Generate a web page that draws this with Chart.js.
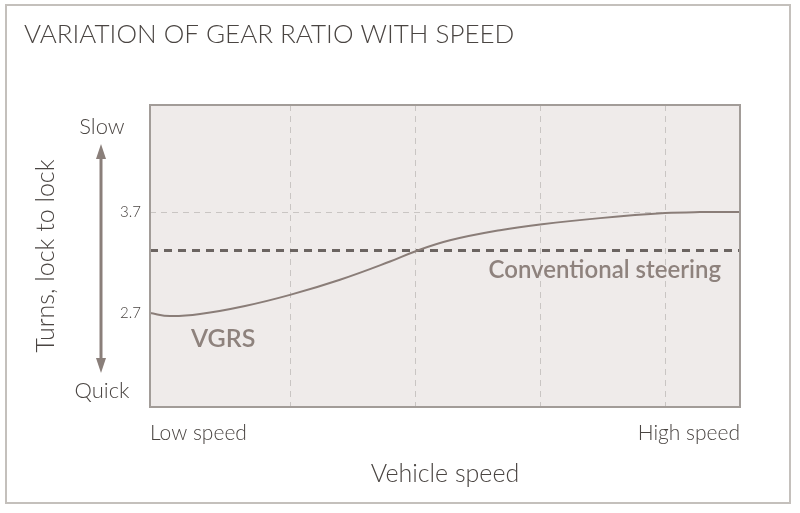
<!DOCTYPE html>
<html>
<head>
<meta charset="utf-8">
<script src="https://cdn.jsdelivr.net/npm/chart.js@4/dist/chart.umd.min.js"></script>
<style>
  html, body { margin: 0; padding: 0; background: #fff; }
  #wrap { width: 800px; height: 513px; position: relative; }
</style>
</head>
<body>
<div id="wrap"><canvas id="chart"></canvas></div>
<script>
// vehicle speed (arbitrary units, 0 = low speed, 590 = high speed)
var speed = [0, 20, 50, 95, 140, 190, 240, 265, 300, 350, 392, 450, 515, 550, 590];
// VGRS turns lock to lock
var vgrs = [2.70, 2.67, 2.69, 2.77, 2.88, 3.03, 3.21, 3.31, 3.42, 3.52, 3.58, 3.64, 3.69, 3.70, 3.70];
// conventional steering is constant
var conventional = 3.32;
var gridSpeeds = [0, 140, 265, 390, 515, 590];
var turnTicks = [2.7, 3.7];

var ink = '#4a4542';
var lightInk = '#8e827d';

var decor = {
    id: 'decor',
    beforeDraw: function (chart) {
        var c = chart.ctx, a = chart.chartArea;
        c.save();
        // outer frame
        c.strokeStyle = '#c4c0bc';
        c.lineWidth = 2;
        c.strokeRect(6, 5, 784, 498);
        // plot background
        c.fillStyle = '#efebea';
        c.fillRect(a.left, a.top, a.right - a.left, a.bottom - a.top);
        c.restore();
    },
    afterDatasetsDraw: function (chart) {
        var c = chart.ctx, a = chart.chartArea;
        c.save();
        c.strokeStyle = '#a29c98';
        c.lineWidth = 2;
        c.strokeRect(a.left, a.top, a.right - a.left, a.bottom - a.top);

        // title
        c.fillStyle = ink;
        c.font = '300 26px Lato';
        c.textBaseline = 'alphabetic';
        c.textAlign = 'left';
        c.fillText('VARIATION OF GEAR RATIO WITH SPEED', 24, 43);

        // slow / quick + arrow
        c.font = '300 22px Lato';
        c.textAlign = 'center';
        c.fillText('Slow', 102, 134);
        c.fillText('Quick', 102, 398);
        c.strokeStyle = '#8a7f7a';
        c.fillStyle = '#8a7f7a';
        c.lineWidth = 3;
        c.beginPath();
        c.moveTo(101, 155);
        c.lineTo(101, 362);
        c.stroke();
        c.beginPath();
        c.moveTo(101, 144); c.lineTo(96, 159); c.lineTo(106, 159); c.closePath(); c.fill();
        c.beginPath();
        c.moveTo(101, 373); c.lineTo(96, 358); c.lineTo(106, 358); c.closePath(); c.fill();

        // series annotations
        c.fillStyle = lightInk;
        c.font = '600 25px Lato';
        c.textAlign = 'left';
        c.fillText('VGRS', 191, 347);
        c.font = '600 24px Lato';
        c.textAlign = 'right';
        c.fillText('Conventional steering', 721, 278);
        c.restore();
    }
};

new Chart(document.getElementById('chart'), {
    type: 'line',
    data: {
        datasets: [{
            label: 'VGRS',
            data: speed.map(function (s, i) { return { x: s, y: vgrs[i] }; }),
            borderColor: '#8a7d78',
            borderWidth: 2,
            pointRadius: 0,
            tension: 0.4
        }, {
            label: 'Conventional steering',
            data: [{ x: speed[0], y: conventional }, { x: speed[speed.length - 1], y: conventional }],
            borderColor: '#6b6461',
            borderWidth: 3,
            borderDash: [8, 6],
            pointRadius: 0
        }]
    },
    options: {
        responsive: true,
        maintainAspectRatio: false,
        animation: false,
        layout: { padding: { top: 105, right: 60, left: 0, bottom: 20 } },
        plugins: {
            legend: { display: false },
            tooltip: { enabled: false }
        },
        scales: {
            x: {
                type: 'linear',
                min: 0,
                max: 590,
                afterFit: function (s) { s.height = 86; },
                afterBuildTicks: function (s) {
                    s.ticks = gridSpeeds.map(function (v) { return { value: v }; });
                },
                grid: {
                    drawTicks: false,
                    color: function (ctx) {
                        var v = ctx.tick && ctx.tick.value;
                        return (v === 0 || v === 590) ? 'rgba(0,0,0,0)' : '#c9c5c3';
                    },
                    lineWidth: 1
                },
                border: { display: false, dash: [6, 5] },
                ticks: {
                    padding: 14,
                    align: 'inner',
                    maxRotation: 0,
                    autoSkip: false,
                    color: ink,
                    font: { family: 'Lato', size: 21, weight: '300' },
                    callback: function (v) {
                        if (v === 0) return 'Low speed';
                        if (v === 590) return 'High speed';
                        return '';
                    }
                },
                title: {
                    display: true,
                    text: 'Vehicle speed',
                    color: ink,
                    font: { family: 'Lato', size: 25, weight: '300' },
                    padding: { top: 8 }
                }
            },
            y: {
                min: 1.77,
                max: 4.76,
                afterFit: function (s) { s.width = 150; },
                afterBuildTicks: function (s) {
                    s.ticks = turnTicks.map(function (v) { return { value: v }; });
                },
                grid: {
                    drawTicks: false,
                    color: function (ctx) {
                        return ctx.tick && ctx.tick.value === 3.7 ? '#c9c5c3' : 'rgba(0,0,0,0)';
                    },
                    lineWidth: 1
                },
                border: { display: false, dash: [6, 5] },
                ticks: {
                    padding: 9,
                    color: ink,
                    font: { family: 'Lato', size: 15, weight: '300' },
                    callback: function (v) { return v.toFixed(1); }
                },
                title: {
                    display: true,
                    text: 'Turns, lock to lock',
                    color: ink,
                    font: { family: 'Lato', size: 25, weight: '300' },
                    padding: { top: 31 }
                }
            }
        }
    },
    plugins: [decor]
});
</script>
</body>
</html>
